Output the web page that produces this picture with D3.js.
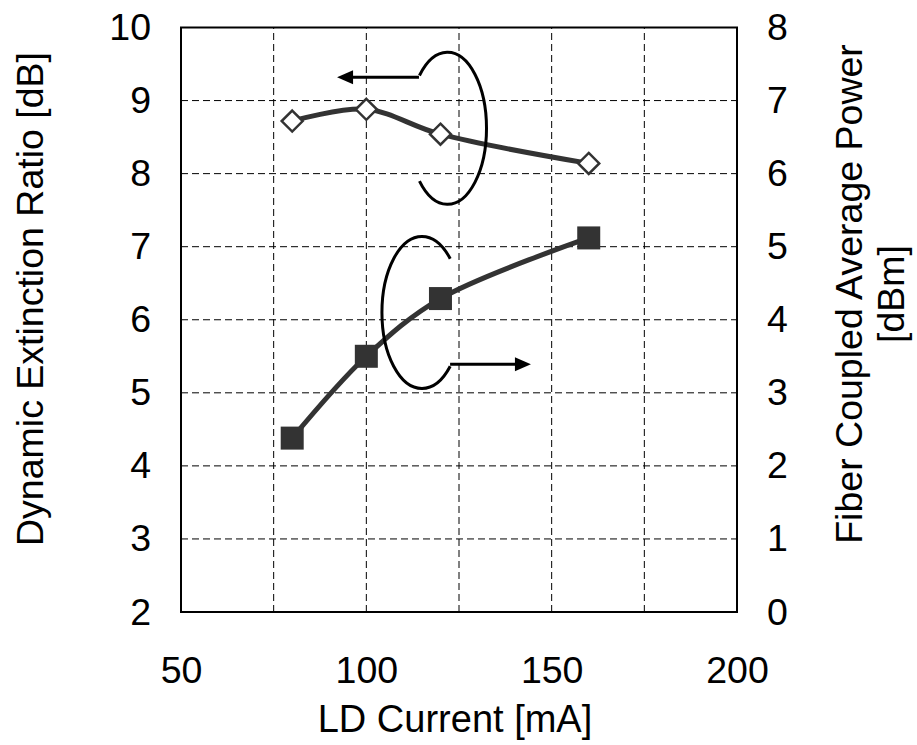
<!DOCTYPE html>
<html lang="en">
<head>
<meta charset="UTF-8" />
<title>Extinction ratio and power vs LD current</title>
<script src="https://cdn.jsdelivr.net/npm/d3@7"></script>
<style>
  body { margin: 0; background: #fff; }
  text { font-family: "Liberation Sans", Arial, sans-serif; fill: #000; }
</style>
</head>
<body>
<div id="chart"></div>
<script>
// data
const currents = [80, 100, 120, 160];
const extinctionRatio = [8.72, 8.88, 8.54, 8.14];   // left axis [dB]
const avgPower = [2.38, 3.50, 4.29, 5.12];          // right axis [dBm]
const xTicks = [50, 100, 150, 200];
const xGrid = [75, 100, 125, 150, 175];
const leftTicks = [2, 3, 4, 5, 6, 7, 8, 9, 10];
const rightTicks = [0, 1, 2, 3, 4, 5, 6, 7, 8];

const width = 917, height = 745;
const margin = {left: 181, right: 180, top: 27.5, bottom: 133};

const svg = d3.select("#chart").append("svg")
    .attr("width", width)
    .attr("height", height);

const x = d3.scaleLinear([50, 200], [margin.left, width - margin.right]);
const yL = d3.scaleLinear([2, 10], [height - margin.bottom, margin.top]);
const yR = d3.scaleLinear([0, 8], [height - margin.bottom, margin.top]);

const fontSize = 37.5;

// gridlines
svg.append("g").selectAll("line")
    .data(xGrid).enter().append("line")
    .attr("x1", d => x(d)).attr("x2", d => x(d))
    .attr("y1", yL(2)).attr("y2", yL(10))
    .attr("stroke", "#000").attr("stroke-width", 1)
    .attr("stroke-dasharray", "7,4");

svg.append("g").selectAll("line")
    .data(leftTicks.slice(1, -1)).enter().append("line")
    .attr("x1", x(50)).attr("x2", x(200))
    .attr("y1", d => yL(d)).attr("y2", d => yL(d))
    .attr("stroke", "#000").attr("stroke-width", 1)
    .attr("stroke-dasharray", "7,4");

// axes (labels only, no tick marks)
const axB = svg.append("g")
    .attr("transform", `translate(0,${yL(2)})`)
    .call(d3.axisBottom(x).tickValues(xTicks).tickSize(0).tickPadding(44));
const axL = svg.append("g")
    .attr("transform", `translate(${x(50)},0)`)
    .call(d3.axisLeft(yL).tickValues(leftTicks).tickSize(0).tickPadding(30));
const axR = svg.append("g")
    .attr("transform", `translate(${x(200)},0)`)
    .call(d3.axisRight(yR).tickValues(rightTicks).tickSize(0).tickPadding(30));
[axB, axL, axR].forEach(a => {
  a.select(".domain").remove();
  a.selectAll("text").attr("font-size", fontSize)
    .attr("font-family", "Liberation Sans, Arial, sans-serif").attr("fill", "#000");
});

// frame
svg.append("rect")
    .attr("x", x(50)).attr("y", yL(10))
    .attr("width", x(200) - x(50)).attr("height", yL(2) - yL(10))
    .attr("fill", "none").attr("stroke", "#000").attr("stroke-width", 2);

// series lines
const erPts = currents.map((c, i) => [c, extinctionRatio[i]]);
const pwPts = currents.map((c, i) => [c, avgPower[i]]);

svg.append("path")
    .datum(erPts)
    .attr("fill", "none").attr("stroke", "#333").attr("stroke-width", 5)
    .attr("d", d3.line().x(d => x(d[0])).y(d => yL(d[1])).curve(d3.curveCatmullRom.alpha(0.5)));

svg.append("path")
    .datum(pwPts)
    .attr("fill", "none").attr("stroke", "#333").attr("stroke-width", 5)
    .attr("d", d3.line().x(d => x(d[0])).y(d => yR(d[1])).curve(d3.curveCatmullRom.alpha(0.5)));

// markers
svg.append("g").selectAll("path")
    .data(erPts).enter().append("path")
    .attr("transform", d => `translate(${x(d[0])},${yL(d[1])})`)
    .attr("d", "M0,-10.5 L10.5,0 L0,10.5 L-10.5,0 Z")
    .attr("fill", "#fff").attr("stroke", "#333").attr("stroke-width", 2.5);

svg.append("g").selectAll("rect")
    .data(pwPts).enter().append("rect")
    .attr("x", d => x(d[0]) - 11.5).attr("y", d => yR(d[1]) - 11.5)
    .attr("width", 23).attr("height", 23)
    .attr("fill", "#333");

// annotation: open ellipses with arrows pointing to the owning axis
function ellipseArc(cx, cy, rx, ry, a0, a1, sweep) {
  const p0 = [cx + rx * Math.cos(a0), cy + ry * Math.sin(a0)];
  const p1 = [cx + rx * Math.cos(a1), cy + ry * Math.sin(a1)];
  return `M${p0[0]},${p0[1]} A${rx},${ry} 0 1 ${sweep} ${p1[0]},${p1[1]}`;
}
function arrow(x0, x1, y) {
  const dir = Math.sign(x1 - x0);
  svg.append("line")
      .attr("x1", x0).attr("x2", x1 - dir * 14).attr("y1", y).attr("y2", y)
      .attr("stroke", "#000").attr("stroke-width", 3);
  svg.append("path")
      .attr("d", `M${x1},${y} L${x1 - dir * 16},${y - 7} L${x1 - dir * 16},${y + 7} Z`)
      .attr("fill", "#000");
}
const deg = Math.PI / 180;

// upper loop -> left axis
const uCx = x(121.9), uCy = yL(8.62);
svg.append("path")
    .attr("d", ellipseArc(uCx, uCy, 39, 76, -136 * deg, 136 * deg, 1))
    .attr("fill", "none").attr("stroke", "#000").attr("stroke-width", 3);
arrow(x(114.2), x(92.1), yL(9.32));

// lower loop -> right axis
const lCx = x(115.0), lCy = yL(6.10);
svg.append("path")
    .attr("d", ellipseArc(lCx, lCy, 40, 76, -45 * deg, 45 * deg, 0))
    .attr("fill", "none").attr("stroke", "#000").attr("stroke-width", 3);
arrow(x(122.6), x(144.4), yL(5.39));

// axis titles
svg.append("text")
    .attr("x", 455).attr("y", 732)
    .attr("text-anchor", "middle").attr("font-size", 38)
    .text("LD Current [mA]");

svg.append("text")
    .attr("transform", "translate(43,299) rotate(-90)")
    .attr("text-anchor", "middle").attr("font-size", fontSize)
    .text("Dynamic Extinction Ratio [dB]");

const rt = svg.append("text")
    .attr("transform", "translate(862,294) rotate(-90)")
    .attr("text-anchor", "middle").attr("font-size", fontSize);
rt.append("tspan").attr("x", 0).attr("dy", 0).text("Fiber Coupled Average Power");
rt.append("tspan").attr("x", 0).attr("dy", 42).text("[dBm]");
</script>
</body>
</html>
